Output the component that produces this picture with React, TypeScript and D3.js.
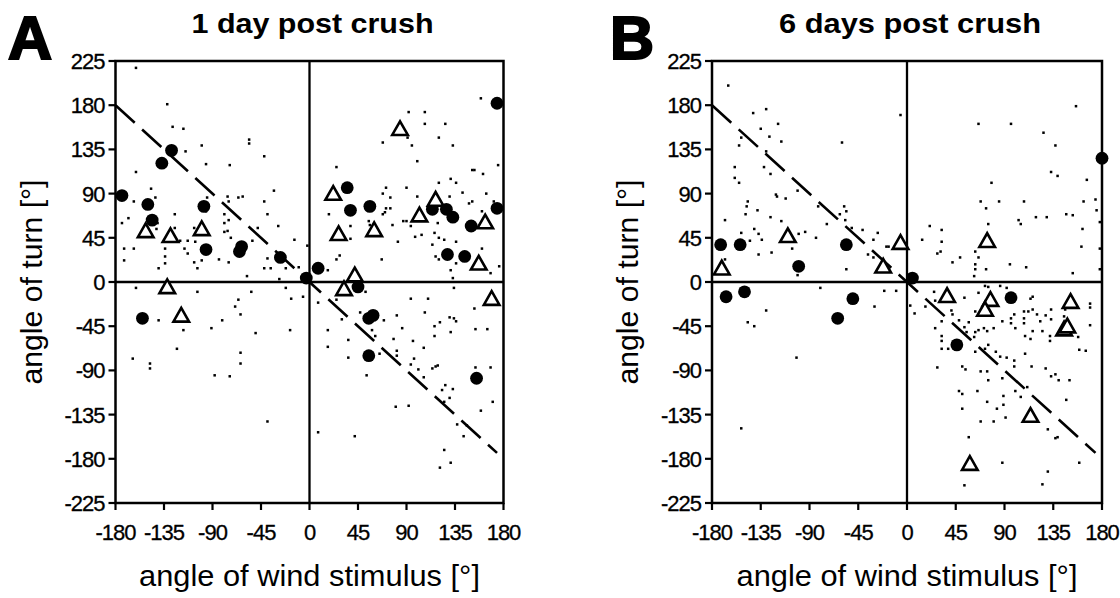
import React from "react";
import * as d3 from "d3";

// ---------- data ----------
const xTicks = [-180, -135, -90, -45, 0, 45, 90, 135, 180];
const yTicks = [-225, -180, -135, -90, -45, 0, 45, 90, 135, 180, 225];
const titleA = "1 day post crush";
const titleB = "6 days post crush";
const xLabel = "angle of wind stimulus [°]";
const yLabel = "angle of turn [°]";

const dotsA: [number, number][] = [
  [-161,218],[-132,181],[-127,158],[-117,156],[-56,145],[-56,141],[-115,133],[-100,139],[-42,128],[-96,120],[-74,119],[-161,112],[-147,95],[-33,93],[-163,82],[-143,86],[-76,87],[-66,86],[-62,87],[-75,82],[-42,82],[-95,86],[-39,69],[-125,69],[-168,65],[-174,60],[-141,60],[-142,54],[-107,55],[-96,72],[-79,69],[-79,60],[-75,63],[-79,51],[-76,52],[-73,45],[-48,55],[-29,57],[-14,43],[-125,55],[-120,42],[-113,42],[-106,41],[-172,34],[-163,34],[-134,34],[-134,26],[-134,19],[-172,22],[-140,14],[-116,34],[-113,29],[-107,20],[-104,14],[-100,22],[-84,23],[-75,20],[-58,6],[-53,42],[-39,24],[-36,14],[-42,14],[-28,3],[-22,14],
  [92,173],[107,173],[107,161],[126,161],[91,147],[68,142],[95,139],[120,147],[133,139],[100,123],[25,117],[151,114],[71,96],[68,90],[75,86],[90,96],[100,87],[120,101],[131,105],[136,101],[130,87],[142,91],[148,80],[151,82],[71,75],[70,71],[75,75],[68,69],[18,69],[55,62],[56,58],[77,58],[87,62],[90,62],[94,57],[119,60],[38,57],[38,44],[-2,37],[28,27],[25,23],[17,12],[67,23],[82,41],[98,46],[104,48],[116,50],[120,45],[125,43],[114,38],[136,41],[117,26],[120,23],[136,19],[131,12],[-10,15],[133,4],
  [159,187],[175,119],[153,114],[161,110],[164,90],[171,82],[160,72],[160,34],[176,16],[168,9],
  [-6,-15],[8,-21],[25,-18],[52,-10],[134,-6],[94,-17],[110,-17],[30,-38],[47,-31],[69,-39],[81,-34],[107,-31],[130,-36],[134,-37],[136,-40],[121,-41],[116,-45],[131,-51],[17,-49],[58,-49],[86,-47],[36,-59],[17,-66],[61,-55],[78,-58],[96,-60],[116,-55],[106,-67],[81,-70],[81,-75],[36,-77],[65,-73],[94,-84],[97,-78],[101,-89],[114,-88],[117,-86],[119,-85],[53,-95],[106,-97],[123,-110],[126,-105],[133,-109],[130,-118],[125,-122],[80,-127],[92,-126],[137,-145],[143,-157],[8,-153],[42,-157],[125,-171],[131,-184],[121,-189],
  [153,-27],[154,-48],[165,-48],[168,-87],[154,-87],[170,-122],[159,-131],[146,-146],
  [-161,-6],[-104,-10],[-140,-39],[-117,-49],[-123,-68],[-164,-78],[-148,-88],[-148,-83],[-91,-47],[-81,-39],[-69,-25],[-66,-18],[-64,-33],[-54,-10],[-22,-6],[-17,-17],[-50,-52],[-64,-72],[-64,-83],[-88,-95],[-74,-96],[-39,-142],[-18,-49],
];

const circlesA: [number, number][] = [
  [-174,88],[-150,79],[-146,63],[-137,121],[-128,134],[-98,77],[-96,33],[-65,31],[-63,36],[-27,25],[-3,4],[8,14],[35,96],[38,73],[56,77],[114,74],[127,74],[133,66],[150,57],[128,28],[144,26],[174,182],[174,75],[155,-98],[45,-5],[59,-34],[55,-37],[55,-75],[-155,-37],
];

const trianglesA: [number, number][] = [
  [-152,52],[-129,47],[-100,54],[-132,-5],[-119,-34],[84,156],[22,90],[27,49],[60,53],[102,68],[117,84],[42,7],[32,-7],[157,19],[163,61],[169,-17],
];

const dotsB: [number, number][] = [
  [-165,200],[-142,172],[-130,176],[-119,161],[-135,156],[-127,148],[-116,143],[-153,147],[-155,139],[-60,142],[-130,133],[-159,117],[-132,117],[-159,106],[-155,101],[-126,110],[-101,93],[-121,89],[-120,87],[-112,85],[-147,82],[-148,77],[-149,69],[-138,73],[-168,63],[-126,66],[-116,62],[-82,77],[-74,59],[-58,77],[-56,72],[-62,69],[-57,63],[-153,50],[-141,54],[-137,49],[-134,43],[-145,42],[-137,28],[-125,30],[-106,34],[-100,49],[-94,51],[-84,45],[-51,55],[-41,53],[-27,50],[-31,43],[-36,28],[-31,25],[-19,36],[-56,13],[-101,7],[-168,23],
  [-6,170],[66,161],[96,161],[126,152],[137,139],[133,112],[139,108],[78,101],[68,82],[85,82],[108,82],[73,75],[103,63],[105,59],[119,66],[129,66],[147,69],[75,59],[21,57],[32,53],[32,41],[31,31],[28,29],[14,43],[49,25],[42,20],[63,31],[66,25],[63,18],[63,13],[62,6],[73,13],[95,18],[110,15],[-17,36],
  [166,104],[153,68],[163,82],[174,84],[175,73],[178,61],[162,54],[161,36],[178,34],[153,9],[178,13],[156,179],
  [-130,-29],[-147,-41],[-141,-45],[-102,-77],[-153,-149],[-80,-6],[-30,-25],[-21,-9],
  [-10,-9],[3,-24],[7,-32],[17,-25],[25,-10],[26,-19],[53,-16],[72,-4],[66,-11],[86,-4],[92,-6],[114,-17],[116,-15],[63,-30],[41,-29],[42,-33],[48,-39],[26,-47],[32,-40],[57,-41],[66,-49],[71,-47],[74,-50],[80,-47],[53,-46],[55,-51],[63,-51],[62,-56],[88,-40],[96,-42],[99,-33],[96,-37],[100,-47],[108,-30],[108,-37],[108,-42],[112,-30],[116,-28],[120,-33],[123,-40],[128,-34],[133,-28],[133,-38],[116,-50],[125,-50],[109,-55],[114,-58],[132,-55],[132,-60],[145,-35],[146,-28],[32,-55],[32,-60],[32,-68],[38,-68],[63,-71],[72,-68],[75,-64],[82,-71],[86,-76],[92,-77],[99,-80],[28,-87],[51,-86],[54,-89],[68,-91],[74,-91],[75,-100],[88,-98],[99,-86],[109,-73],[115,-86],[128,-88],[133,-96],[137,-94],[140,-100],[48,-111],[51,-114],[65,-111],[89,-116],[89,-125],[83,-129],[100,-111],[105,-117],[111,-107],[51,-129],[74,-122],[68,-142],[80,-142],[91,-138],[147,-120],[130,-150],[137,-159],[57,-158],[88,-184],[130,-193],[125,-206],[53,-207],
  [169,-22],[169,-26],[169,-44],[158,-56],[159,-69],[165,-70],[150,-100],[139,-158],[159,-184],[75,-5],
];

const circlesB: [number, number][] = [
  [-172,38],[-154,38],[-100,16],[-56,38],[-167,-15],[-150,-10],[-64,-37],[-50,-17],[5,4],[96,-16],[46,-64],[180,126],
];

const trianglesB: [number, number][] = [
  [-171,14],[-110,47],[-22,16],[-6,40],[74,42],[37,-14],[77,-18],[72,-28],[151,-20],[145,-48],[148,-45],[114,-136],[58,-185],
];

// diagonal reference line y = -x
const diagX = [-180, 174];

// ---------- drawing ----------
const FONT = "'Liberation Sans', Arial, Helvetica, sans-serif";

type PanelProps = {
  left: number;
  right: number;
  letter: string;
  letterX: number;
  title: string;
  titleLen: number;
  dots: [number, number][];
  circles: [number, number][];
  triangles: [number, number][];
};

function Panel(p: PanelProps) {
  const x = d3.scaleLinear().domain([-180, 180]).range([p.left, p.right]);
  const y = d3.scaleLinear().domain([-225, 225]).range([503, 61]);
  const line = d3
    .line<number>()
    .x((v) => x(v))
    .y((v) => y(-v));
  const x0 = x(0);
  const tri = (cx: number, cy: number) =>
    `M${cx},${cy - 7.5}L${cx - 7.8},${cy + 6.2}L${cx + 7.8},${cy + 6.2}Z`;
  return (
    <g>
      <text x={p.letterX} y={59} fontFamily={FONT} fontWeight="bold" fontSize={61}
        stroke="#000" strokeWidth={2.2} fill="#000">{p.letter}</text>
      <text x={x0 + 3} y={33} textAnchor="middle" fontFamily={FONT} fontWeight="bold"
        fontSize={28} textLength={p.titleLen} lengthAdjust="spacingAndGlyphs">{p.title}</text>

      {/* small dots */}
      {p.dots.map((d, i) => (
        <rect key={"d" + i} x={x(d[0]) - 1.25} y={y(d[1]) - 1.25} width={2.5} height={2.5} fill="#000" />
      ))}

      {/* dashed diagonal */}
      <path d={line(diagX) || ""} fill="none" stroke="#000" strokeWidth={2.6} strokeDasharray="26,10" />

      {/* frame and zero lines */}
      <rect x={p.left} y={y(225)} width={p.right - p.left} height={y(-225) - y(225)}
        fill="none" stroke="#000" strokeWidth={2.5} />
      <line x1={x0} x2={x0} y1={y(225)} y2={y(-225)} stroke="#000" strokeWidth={2.3} />
      <line x1={p.left} x2={p.right} y1={y(0)} y2={y(0)} stroke="#000" strokeWidth={2.3} />

      {/* ticks */}
      {yTicks.map((t) => (
        <g key={"yt" + t}>
          <line x1={p.left - 7} x2={p.left} y1={y(t)} y2={y(t)} stroke="#000" strokeWidth={2.2} />
          <text x={p.left - 11} y={y(t)} dy="0.36em" textAnchor="end" fontFamily={FONT}
            fontSize={22} letterSpacing={-1} stroke="#000" strokeWidth={0.3}>{t}</text>
        </g>
      ))}
      {xTicks.map((t) => (
        <g key={"xt" + t}>
          <line x1={x(t)} x2={x(t)} y1={y(-225)} y2={y(-225) + 7} stroke="#000" strokeWidth={2.2} />
          <text x={x(t)} y={540} textAnchor="middle" fontFamily={FONT} fontSize={22}
            letterSpacing={-1} stroke="#000" strokeWidth={0.3}>{t}</text>
        </g>
      ))}

      {/* axis titles */}
      <text x={x0} y={586} textAnchor="middle" fontFamily={FONT} fontSize={29}
        textLength={341} lengthAdjust="spacingAndGlyphs">{xLabel}</text>
      <text transform={`translate(${p.left - 74},${y(0)}) rotate(-90)`} textAnchor="middle"
        fontFamily={FONT} fontSize={29} textLength={205} lengthAdjust="spacingAndGlyphs">{yLabel}</text>

      {/* filled circles */}
      {p.circles.map((d, i) => (
        <circle key={"c" + i} cx={x(d[0])} cy={y(d[1])} r={6.4} fill="#000" />
      ))}
      {/* open triangles */}
      {p.triangles.map((d, i) => (
        <path key={"t" + i} d={tri(x(d[0]), y(d[1]))} fill="#fff" stroke="#000"
          strokeWidth={2.6} strokeLinejoin="miter" />
      ))}
    </g>
  );
}

export default function App() {
  return (
    <svg width={1120} height={598} viewBox="0 0 1120 598"
      style={{ position: "absolute", left: 0, top: 0, background: "#fff" }}>
      <rect x={0} y={0} width={1120} height={598} fill="#fff" />
      <Panel left={115.5} right={503.5} letter="A" letterX={8} title={titleA} titleLen={242}
        dots={dotsA} circles={circlesA} triangles={trianglesA} />
      <Panel left={712} right={1102} letter="B" letterX={610} title={titleB} titleLen={262}
        dots={dotsB} circles={circlesB} triangles={trianglesB} />
    </svg>
  );
}
